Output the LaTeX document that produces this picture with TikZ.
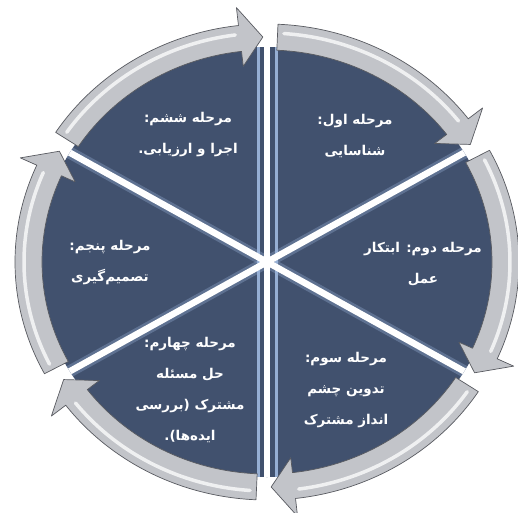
\documentclass[tikz,border=0pt]{standalone}
\usepackage{fontspec}
\newfontfamily\arabicfont[Script=Arabic]{DejaVu Sans}
\TeXXeTstate=1
\definecolor{sector}{RGB}{65,81,110}
\definecolor{ringgray}{RGB}{194,196,201}
\definecolor{ringline}{RGB}{88,90,96}
\definecolor{stripe}{RGB}{150,175,212}
\tikzset{
  sepglow/.style={line width=12pt, draw=stripe, draw opacity=0.35},
  sepline/.style={line width=6.5pt, draw=white},
  vstripe/.style={line width=3pt, draw=stripe},
  ringarrow/.style={fill=ringgray, draw=ringline, line width=0.7pt, line join=round},
  ringlight/.style={draw=white, line width=3.5pt, draw opacity=0.75, line cap=round},
  stagetext/.style={text=white, align=center, font=\arabicfont\bfseries\fontsize{13.5}{31}\selectfont}
}
\newcommand\myarrow[2]{%
  \pgfmathsetmacro\hb{#2+5.5}%
  \path[ringarrow] (#1:252 and 238)
    arc[start angle=#1, end angle=\hb, x radius=252, y radius=238]
    -- (\hb:270 and 256) -- (#2:238.5 and 225) -- (\hb:210 and 197)
    -- (\hb:225 and 212)
    arc[start angle=\hb, end angle=#1, x radius=225, y radius=212] -- cycle;
  \pgfmathsetmacro\hs{#1-1.5}%
  \pgfmathsetmacro\he{\hb+1}%
  \draw[ringlight] (\hs:243 and 229)
    arc[start angle=\hs, end angle=\he, x radius=243, y radius=229];
}
\begin{document}
\begin{tikzpicture}[x=1pt,y=1pt]
\useasboundingbox (-267,-250) rectangle (251,262);
\coordinate (c) at (0,0);
\fill[sector] (c) ellipse[x radius=229, y radius=215];
\begin{scope}
  \clip (c) ellipse[x radius=229, y radius=215];
  \foreach \a in {29,-29,151,209} \draw[sepglow] (c) -- (\a:300);
  \draw[vstripe] (-9,-300) -- (-9,300);
  \draw[vstripe] (9,-300) -- (9,300);
  \foreach \a in {29,-29,151,209} \draw[sepline] (c) -- (\a:300);
  \draw[sepline] (0,-300) -- (0,300);
\end{scope}
\myarrow{87.5}{31.5}
\myarrow{28}{-29.5}
\myarrow{-33}{-89}
\myarrow{-92.5}{-148.5}
\myarrow{-152}{-209.5}
\myarrow{-213}{-269}
\node[stagetext] (t1) at (88,126) {\beginR مرحله اول:\endR\\\beginR شناسایی\endR};
\node[stagetext] (t2) at (156,-2) {\beginR مرحله دوم: ابتکار\endR\\\beginR عمل\endR};
\node[stagetext] (t3) at (79,-128) {\beginR مرحله سوم:\endR\\\beginR تدوین چشم\endR\\\beginR انداز مشترک\endR};
\node[stagetext] (t4) at (-77,-128) {\beginR مرحله چهارم:\endR\\\beginR حل مسئله\endR\\\beginR مشترک (بررسی\endR\\\beginR ایده‌ها).\endR};
\node[stagetext] (t5) at (-157,-1) {\beginR مرحله پنجم:\endR\\\beginR تصمیم‌گیری\endR};
\node[stagetext] (t6) at (-79,127) {\beginR مرحله ششم:\endR\\\beginR اجرا و ارزیابی.\endR};
\end{tikzpicture}
\end{document}
